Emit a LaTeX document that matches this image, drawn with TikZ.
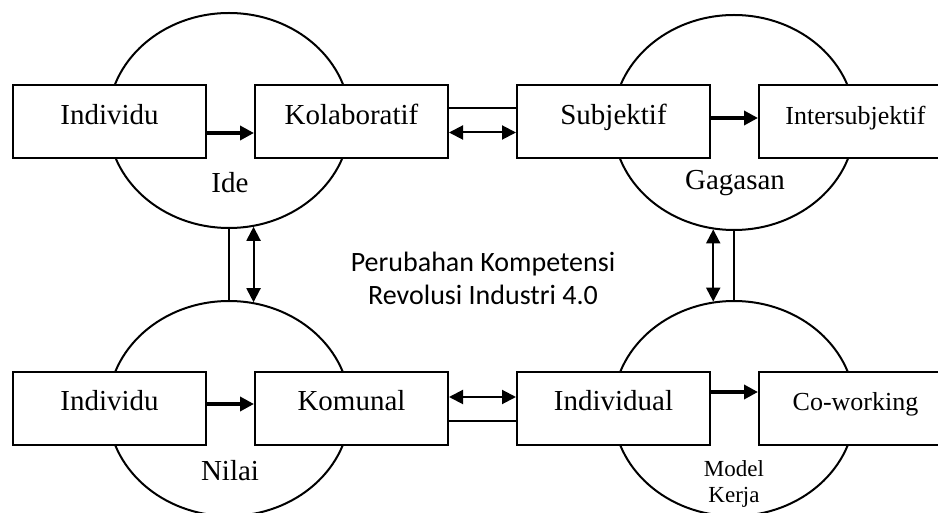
\documentclass[tikz,border=0pt]{standalone}
\usepackage{fontspec}
\setmainfont{Liberation Serif}
\newfontfamily\calibri{Carlito}
\usetikzlibrary{arrows.meta,calc,positioning,shapes.geometric}

\begin{document}
\begin{tikzpicture}[
    x=1pt, y=1pt,
    font=\fontsize{29}{34}\selectfont,
    zone/.style={ellipse, draw, line width=2pt, minimum width=242pt, minimum height=215pt, inner sep=0pt},
    box/.style={draw, fill=white, line width=2pt, minimum width=193pt, minimum height=73pt,
                inner sep=0pt, text height=20pt, text depth=15pt},
    flow/.style={-{Triangle[length=14pt,width=14pt]}, line width=3.5pt},
    link/.style={{Triangle[length=14pt,width=14pt]}-{Triangle[length=14pt,width=14pt]}, line width=2pt},
    tie/.style={line width=2pt}
]
\useasboundingbox (0,0) rectangle (938,512);
\clip (0,0) rectangle (938,512);
% the four circles
\node[zone] (ideE) at (229,391.5) {};
\node[zone] (gagasanE) at (734,389.5) {};
\node[zone] (nilaiE) at (229,103.5) {};
\node[zone] (kerjaE) at (734,103.5) {};
\draw[tie] (ideE.south) -- (nilaiE.north);
\draw[link] (ideE.-77) -- (nilaiE.77);
\draw[tie] (gagasanE.south) -- (kerjaE.north);
\draw[link] (gagasanE.-101) -- (kerjaE.101);
% boxes
\node[box] (indA) at (109.5,390) {Individu};
\node[box, right=47pt of indA] (kolab) {Kolaboratif};
\node[box] (subj) at (613.5,390) {Subjektif};
\node[box, right=47pt of subj, font=\fontsize{26}{30}\selectfont] (inter) {Intersubjektif};
\node[box] (indB) at (109.5,103.5) {Individu};
\node[box, right=47pt of indB] (komunal) {Komunal};
\node[box] (indiv) at (613.5,103.5) {Individual};
\node[box, right=47pt of indiv, font=\fontsize{26}{30}\selectfont] (cowork) {Co-working};
% arrows between boxes
\draw[flow] ([yshift=-11pt]indA.east) -- ([yshift=-11pt]kolab.west);
\draw[flow] ([yshift=4pt]subj.east) -- ([yshift=4pt]inter.west);
\draw[flow] ([yshift=4.5pt]indB.east) -- ([yshift=4.5pt]komunal.west);
\draw[flow] ([yshift=16.5pt]indiv.east) -- ([yshift=16.5pt]cowork.west);
\draw[tie] ([yshift=14pt]kolab.east) -- ([yshift=14pt]subj.west);
\draw[link] ([yshift=-10.5pt]kolab.east) -- ([yshift=-10.5pt]subj.west);
\draw[link] ([yshift=11.5pt]komunal.east) -- ([yshift=11.5pt]indiv.west);
\draw[tie] ([yshift=-12.5pt]komunal.east) -- ([yshift=-12.5pt]indiv.west);
% labels
\node[anchor=base] (ideL) at (230,319) {Ide};
\node[anchor=base] (gagasanL) at (735,322) {Gagasan};
\node[anchor=base] (nilaiL) at (230,32) {Nilai};
\node[anchor=base, font=\fontsize{23}{27}\selectfont] (modelL) at (734,35) {Model};
\node[anchor=base, font=\fontsize{23}{27}\selectfont] (kerjaL) at (734,10) {Kerja};
\node[align=center, font=\calibri\fontsize{28}{33}\selectfont] (title) at (483,234)
    {Perubahan Kompetensi\\Revolusi Industri 4.0};
\end{tikzpicture}
\end{document}
